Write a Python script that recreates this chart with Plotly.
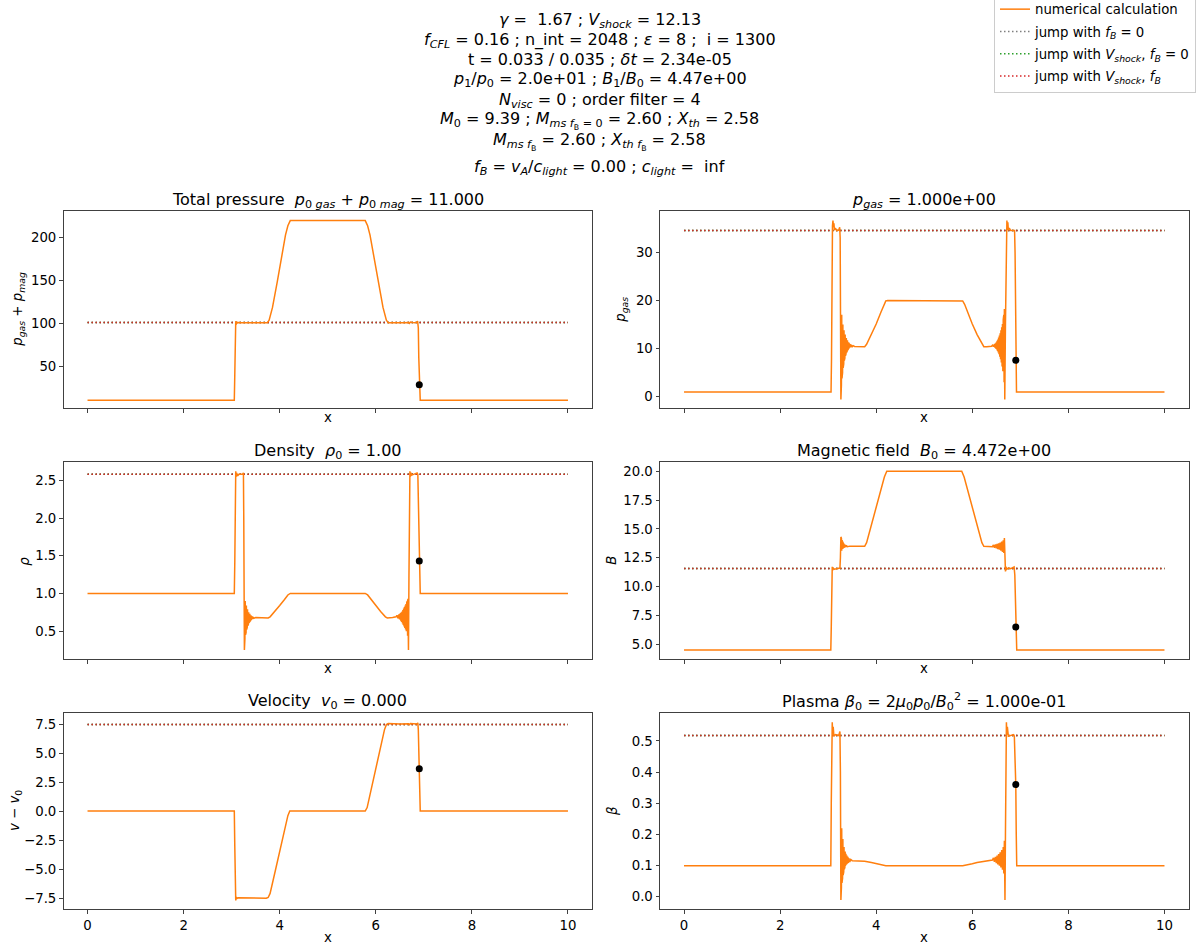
import plotly.graph_objects as go

# ---------------- data ----------------
TP = [(0.0, 11), (3.055, 11), (3.065, 40), (3.075, 85), (3.085, 103), (3.095, 99), (3.105, 102.5),
      (3.115, 100.5), (3.13, 101.5), (3.2, 101), (3.5, 101), (3.74, 101), (3.78, 104), (3.85, 119),
      (3.95, 149), (4.05, 181), (4.12, 203), (4.17, 214), (4.22, 220), (5.78, 220), (5.83, 214),
      (5.88, 203), (5.95, 181), (6.05, 149), (6.15, 119), (6.22, 104), (6.26, 101), (6.6, 101),
      (6.68, 101.5), (6.70, 100.5), (6.72, 102), (6.8, 101), (6.85, 101.5), (6.87, 103), (6.88, 99),
      (6.885, 95), (6.895, 60), (6.905, 29), (6.915, 14), (6.925, 11), (10.0, 11)]

PGAS = [(0.0, 1.0), (3.06, 1.0), (3.07, 8), (3.08, 28), (3.09, 35.5), (3.10, 36.6), (3.11, 35.2),
        (3.12, 36.0), (3.13, 34.6), (3.15, 35.0), (3.18, 34.5), (3.22, 34.6), (3.24, 35.2), (3.25, 33),
        (3.258, 15), (3.265, -0.55),
        (3.27, 18.4), (3.276, 2.5), (3.282, 17.0), (3.288, 3.8), (3.294, 15.8), (3.30, 5.0),
        (3.306, 15.0), (3.312, 6.0), (3.318, 14.3), (3.324, 6.8), (3.33, 13.8), (3.336, 7.5),
        (3.342, 13.3), (3.348, 8.0), (3.354, 12.9), (3.36, 8.5), (3.366, 12.5), (3.372, 8.9),
        (3.378, 12.2), (3.384, 9.2), (3.39, 12.0), (3.396, 9.5), (3.402, 11.7), (3.408, 9.7),
        (3.414, 11.5), (3.42, 9.9), (3.426, 11.3), (3.432, 10.0), (3.44, 11.1), (3.45, 10.2),
        (3.46, 10.9), (3.47, 10.3), (3.48, 10.8), (3.50, 10.4), (3.52, 10.6), (3.55, 10.45),
        (3.6, 10.45), (3.7, 10.4), (3.76, 10.4), (3.8, 10.9), (3.9, 12.9), (4.0, 15.1), (4.1, 17.6),
        (4.16, 19.2), (4.2, 19.9), (4.24, 20.0), (5.76, 20.0), (5.8, 19.9), (5.84, 19.2), (5.9, 17.6),
        (6.0, 15.1), (6.1, 12.9), (6.2, 10.9), (6.24, 10.4), (6.3, 10.4), (6.35, 10.45), (6.4, 10.5),
        (6.42, 10.7), (6.44, 10.4), (6.46, 10.9), (6.47, 10.2), (6.48, 11.1), (6.49, 10.0),
        (6.50, 11.3), (6.508, 9.8), (6.516, 11.6), (6.524, 9.5), (6.532, 11.9), (6.54, 9.2),
        (6.548, 12.3), (6.556, 8.8), (6.564, 12.7), (6.572, 8.3), (6.58, 13.2), (6.588, 7.8),
        (6.596, 13.8), (6.604, 7.1), (6.612, 14.4), (6.62, 6.3), (6.628, 15.1), (6.636, 5.3),
        (6.644, 16.0), (6.65, 4.2), (6.656, 17.0), (6.662, 3.0), (6.668, 18.2), (6.676, -0.55),
        (6.69, 15), (6.70, 30), (6.71, 35.5), (6.72, 36.6), (6.73, 35), (6.74, 36.2), (6.75, 34.6),
        (6.77, 35), (6.8, 34.5), (6.86, 34.6), (6.88, 34.5), (6.89, 30), (6.9, 14), (6.91, 3),
        (6.92, 1.0), (10.0, 1.0)]

RHO = [(0.0, 1.0), (3.055, 1.0), (3.065, 1.4), (3.075, 2.3), (3.085, 2.62), (3.095, 2.55), (3.105, 2.6),
       (3.12, 2.56), (3.15, 2.58), (3.22, 2.58), (3.245, 2.6), (3.252, 2.0), (3.26, 1.0), (3.265, 0.25),
       (3.27, 0.93), (3.276, 0.40), (3.282, 0.90), (3.288, 0.45), (3.294, 0.87), (3.30, 0.48),
       (3.306, 0.84), (3.312, 0.52), (3.318, 0.81), (3.324, 0.55), (3.33, 0.79), (3.336, 0.57),
       (3.342, 0.77), (3.348, 0.59), (3.354, 0.75), (3.36, 0.61), (3.366, 0.74), (3.372, 0.62),
       (3.378, 0.73), (3.384, 0.63), (3.39, 0.72), (3.396, 0.64), (3.402, 0.71), (3.41, 0.65),
       (3.42, 0.70), (3.43, 0.66), (3.44, 0.69), (3.46, 0.67), (3.5, 0.68), (3.6, 0.675),
       (3.76, 0.675), (3.8, 0.69), (3.9, 0.76), (4.0, 0.84), (4.1, 0.92), (4.17, 0.98), (4.22, 1.0),
       (5.78, 1.0), (5.83, 0.98), (5.9, 0.92), (6.0, 0.84), (6.1, 0.76), (6.2, 0.69), (6.24, 0.675),
       (6.35, 0.68), (6.42, 0.69), (6.44, 0.71), (6.46, 0.67), (6.48, 0.72), (6.49, 0.66),
       (6.50, 0.73), (6.508, 0.65), (6.516, 0.74), (6.524, 0.63), (6.532, 0.75), (6.54, 0.62),
       (6.548, 0.76), (6.556, 0.60), (6.564, 0.78), (6.572, 0.58), (6.58, 0.80), (6.588, 0.56),
       (6.596, 0.82), (6.604, 0.54), (6.612, 0.84), (6.62, 0.52), (6.628, 0.86), (6.636, 0.50),
       (6.644, 0.88), (6.65, 0.47), (6.656, 0.90), (6.662, 0.44), (6.668, 0.93), (6.674, 0.42),
       (6.68, 0.25), (6.69, 1.2), (6.70, 2.2), (6.71, 2.62), (6.72, 2.55), (6.73, 2.6), (6.75, 2.57),
       (6.8, 2.58), (6.86, 2.6), (6.875, 2.58), (6.885, 2.3), (6.895, 1.9), (6.905, 1.43),
       (6.915, 1.1), (6.925, 1.0), (10.0, 1.0)]

BFIELD = [(0.0, 4.472), (3.055, 4.472), (3.065, 6.5), (3.075, 10.5), (3.085, 11.7), (3.095, 11.4),
          (3.105, 11.6), (3.13, 11.5), (3.2, 11.55), (3.245, 11.6), (3.255, 12.5), (3.265, 14.3),
          (3.27, 13.0), (3.276, 14.2), (3.282, 13.1), (3.288, 14.0), (3.294, 13.2), (3.30, 13.9),
          (3.306, 13.25), (3.312, 13.8), (3.318, 13.3), (3.324, 13.7), (3.33, 13.35), (3.34, 13.65),
          (3.35, 13.4), (3.36, 13.6), (3.37, 13.42), (3.38, 13.55), (3.4, 13.45), (3.45, 13.5),
          (3.6, 13.48), (3.76, 13.48), (3.8, 13.8), (3.9, 15.3), (4.0, 16.8), (4.1, 18.4), (4.17, 19.5),
          (4.22, 20.0), (5.78, 20.0), (5.83, 19.5), (5.9, 18.4), (6.0, 16.8), (6.1, 15.3), (6.2, 13.8),
          (6.24, 13.48), (6.42, 13.45), (6.44, 13.6), (6.46, 13.35), (6.48, 13.65), (6.50, 13.3),
          (6.516, 13.7), (6.532, 13.25), (6.548, 13.75), (6.564, 13.2), (6.58, 13.8), (6.596, 13.1),
          (6.612, 13.9), (6.628, 13.0), (6.644, 14.0), (6.656, 12.9), (6.668, 14.2), (6.68, 12.5),
          (6.69, 11.3), (6.70, 11.7), (6.72, 11.5), (6.75, 11.6), (6.8, 11.55), (6.87, 11.7),
          (6.885, 11.0), (6.895, 9.0), (6.905, 6.5), (6.915, 5.0), (6.925, 4.472), (10.0, 4.472)]

VEL = [(0.0, 0.0), (3.055, 0.0), (3.065, -3.0), (3.075, -7.0), (3.085, -7.7), (3.095, -7.4),
       (3.105, -7.55), (3.13, -7.48), (3.3, -7.5), (3.5, -7.5), (3.72, -7.52), (3.76, -7.45),
       (3.8, -7.1), (3.9, -5.3), (4.0, -3.5), (4.1, -1.6), (4.17, -0.4), (4.21, 0.0), (5.78, 0.0),
       (5.82, 0.3), (5.9, 1.8), (6.0, 3.7), (6.1, 5.6), (6.18, 7.0), (6.22, 7.45), (6.26, 7.55),
       (6.5, 7.5), (6.68, 7.52), (6.7, 7.45), (6.72, 7.55), (6.86, 7.5), (6.875, 7.6), (6.885, 7.0),
       (6.895, 5.5), (6.905, 3.64), (6.915, 1.5), (6.925, 0.0), (10.0, 0.0)]

BETA = [(0.0, 0.1), (3.055, 0.1), (3.065, 0.3), (3.075, 0.5), (3.085, 0.56), (3.095, 0.52),
        (3.105, 0.545), (3.12, 0.515), (3.15, 0.52), (3.22, 0.517), (3.245, 0.53), (3.255, 0.4),
        (3.265, -0.01), (3.27, 0.25), (3.276, 0.03), (3.282, 0.22), (3.288, 0.045), (3.294, 0.2),
        (3.30, 0.06), (3.306, 0.185), (3.312, 0.07), (3.318, 0.17), (3.324, 0.08), (3.33, 0.16),
        (3.336, 0.088), (3.342, 0.152), (3.348, 0.094), (3.354, 0.145), (3.36, 0.099), (3.37, 0.138),
        (3.38, 0.103), (3.39, 0.132), (3.40, 0.106), (3.41, 0.128), (3.42, 0.109), (3.43, 0.124),
        (3.45, 0.112), (3.47, 0.12), (3.5, 0.116), (3.6, 0.116), (3.76, 0.114), (3.9, 0.110),
        (4.0, 0.106), (4.1, 0.102), (4.2, 0.1), (5.8, 0.1), (5.9, 0.102), (6.0, 0.106), (6.1, 0.110),
        (6.24, 0.114), (6.35, 0.116), (6.42, 0.118), (6.44, 0.125), (6.46, 0.112), (6.48, 0.128),
        (6.50, 0.108), (6.516, 0.132), (6.532, 0.104), (6.548, 0.137), (6.564, 0.1), (6.58, 0.143),
        (6.596, 0.094), (6.612, 0.15), (6.628, 0.087), (6.644, 0.16), (6.656, 0.075), (6.668, 0.18),
        (6.674, 0.06), (6.68, -0.01), (6.69, 0.2), (6.70, 0.45), (6.71, 0.56), (6.72, 0.52),
        (6.73, 0.545), (6.75, 0.515), (6.8, 0.517), (6.86, 0.52), (6.875, 0.515), (6.885, 0.47),
        (6.895, 0.42), (6.905, 0.36), (6.915, 0.2), (6.925, 0.1), (10.0, 0.1)]

JUMP_X = [0.0, 10.0]
JUMP_LEVELS = [101.5, 34.5, 2.58, 11.55, 7.47, 0.517]   # TP, p_gas, rho, B, v, beta
DOT_X = [6.905, 6.905, 6.905, 6.905, 6.905, 6.905]
DOT_Y = [28.9, 7.55, 1.43, 6.47, 3.64, 0.36]

X_TICKS = [0, 2, 4, 6, 8, 10]
Y_RANGES = [[1.6, 230.8], [-2.4, 38.5], [0.13, 2.74], [3.70, 20.78], [-8.47, 8.47], [-0.04, 0.59]]
Y_TICKS = [[50, 100, 150, 200], [0, 10, 20, 30], [0.5, 1.0, 1.5, 2.0, 2.5],
           [5.0, 7.5, 10.0, 12.5, 15.0, 17.5, 20.0], [-7.5, -5.0, -2.5, 0.0, 2.5, 5.0, 7.5],
           [0.0, 0.1, 0.2, 0.3, 0.4, 0.5]]
Y_FORMATS = ["d", "d", ".1f", ".1f", ".1f", ".1f"]

TITLES = ["Total pressure  <i>p</i><sub>0 <i>gas</i></sub> + <i>p</i><sub>0 <i>mag</i></sub> = 11.000",
          "<i>p<sub>gas</sub></i> = 1.000e+00",
          "Density  <i>ρ</i><sub>0</sub> = 1.00",
          "Magnetic field  <i>B</i><sub>0</sub> = 4.472e+00",
          "Velocity  <i>v</i><sub>0</sub> = 0.000",
          "Plasma <i>β</i><sub>0</sub> = 2<i>μ</i><sub>0</sub><i>p</i><sub>0</sub>/<i>B</i><sub>0</sub><sup>2</sup> = 1.000e-01"]
YLABELS = ["<i>p<sub>gas</sub></i> + <i>p<sub>mag</sub></i>", "<i>p<sub>gas</sub></i>", "<i>ρ</i>",
           "<i>B</i>", "<i>v</i> − <i>v</i><sub>0</sub>", "<i>β</i>"]
SUPTITLE = ["<i>γ</i> =  1.67 ; <i>V<sub>shock</sub></i> = 12.13",
            "<i>f<sub>CFL</sub></i> = 0.16 ; n_int = 2048 ; <i>ε</i> = 8 ;  i = 1300",
            "t = 0.033 / 0.035 ; <i>δt</i> = 2.34e-05",
            "<i>p</i><sub>1</sub>/<i>p</i><sub>0</sub> = 2.0e+01 ; <i>B</i><sub>1</sub>/<i>B</i><sub>0</sub> = 4.47e+00",
            "<i>N<sub>visc</sub></i> = 0 ; order filter = 4",
            "<i>M</i><sub>0</sub> = 9.39 ; <i>M<sub>ms f</sub></i><sub><sub>B</sub></sub><sub> = 0</sub> = 2.60 ; <i>X<sub>th</sub></i> = 2.58",
            "<i>M<sub>ms f</sub></i><sub><sub>B</sub></sub> = 2.60 ; <i>X<sub>th f</sub></i><sub><sub>B</sub></sub> = 2.58",
            "<i>f<sub>B</sub></i> = <i>v<sub>A</sub></i>/<i>c<sub>light</sub></i> = 0.00 ; <i>c<sub>light</sub></i> =  inf"]
LEGEND_NAMES = ["numerical calculation", "jump with <i>f<sub>B</sub></i> = 0",
                "jump with <i>V<sub>shock</sub></i>, <i>f<sub>B</sub></i> = 0",
                "jump with <i>V<sub>shock</sub></i>, <i>f<sub>B</sub></i>"]

# ---------------- layout geometry (pixels) ----------------
W, H = 1199, 947
COLS = [(63.5, 592.0), (660.0, 1188.5)]
ROWS = [(211.3, 408.3), (462.3, 659.0), (712.8, 909.3)]
YLABEL_PX = [19, 622, 25, 612, 15, 612]
FONT = "DejaVu Sans"
ORANGE = "#ff7f0e"
JUMP_COLORS = ["#7f7f7f", "#2ca02c", "#d62728"]

series = [TP, PGAS, RHO, BFIELD, VEL, BETA]

fig = go.Figure()
layout = dict(width=W, height=H, margin=dict(l=0, r=0, t=0, b=0, pad=0, autoexpand=False),
              paper_bgcolor="white", plot_bgcolor="white", font=dict(family=FONT, size=13.3, color="black"),
              showlegend=True, annotations=[])

for i, data in enumerate(series):
    row, col = i // 2, i % 2
    n = i + 1
    xa, ya = ("x" if n == 1 else f"x{n}"), ("y" if n == 1 else f"y{n}")
    xs = [p[0] for p in data]
    ys = [p[1] for p in data]
    # jump lines
    for k, c in enumerate(JUMP_COLORS):
        fig.add_trace(go.Scatter(x=JUMP_X, y=[JUMP_LEVELS[i]] * 2, mode="lines", xaxis=xa, yaxis=ya,
                                 line=dict(color=c, width=1.5, dash="1.5px,2.5px"),
                                 name=LEGEND_NAMES[k + 1], showlegend=(i == 0), legendrank=k + 2,
                                 legendgroup=f"g{k+1}", hoverinfo="skip"))
    fig.add_trace(go.Scatter(x=xs, y=ys, mode="lines", xaxis=xa, yaxis=ya,
                             line=dict(color=ORANGE, width=1.5), name=LEGEND_NAMES[0],
                             showlegend=(i == 0), legendrank=1, legendgroup="g0"))
    fig.add_trace(go.Scatter(x=[DOT_X[i]], y=[DOT_Y[i]], mode="markers", xaxis=xa, yaxis=ya,
                             marker=dict(color="black", size=7), showlegend=False))

    x0, x1 = COLS[col]
    y0, y1 = ROWS[row]
    axis_common = dict(showline=True, mirror=True, linecolor="#404040", linewidth=1, showgrid=False,
                       zeroline=False, ticks="outside", ticklen=3.5, tickwidth=1, tickcolor="#404040",
                       tickfont=dict(family=FONT, size=13.3, color="black"))
    layout["xaxis" if n == 1 else f"xaxis{n}"] = dict(
        axis_common, domain=[x0 / W, x1 / W], anchor=ya, range=[-0.5, 10.5], tickvals=X_TICKS,
        showticklabels=(row == 2))
    layout["yaxis" if n == 1 else f"yaxis{n}"] = dict(
        axis_common, domain=[1 - y1 / H, 1 - y0 / H], anchor=xa, range=Y_RANGES[i],
        tickvals=Y_TICKS[i], tickformat=Y_FORMATS[i])
    cx = (x0 + x1) / 2
    layout["annotations"].append(dict(text=TITLES[i], x=cx / W, y=1 - (y0 - 11) / H, xref="paper",
                                      yref="paper", xanchor="center", yanchor="middle", showarrow=False,
                                      font=dict(family=FONT, size=16, color="black")))
    xlab_y = y1 + (28 if row == 2 else 9)
    layout["annotations"].append(dict(text="x", x=cx / W, y=1 - xlab_y / H, xref="paper", yref="paper",
                                      xanchor="center", yanchor="middle", showarrow=False,
                                      font=dict(family=FONT, size=13.3, color="black")))
    layout["annotations"].append(dict(text=YLABELS[i], x=YLABEL_PX[i] / W, y=1 - (y0 + y1) / 2 / H,
                                      xref="paper", yref="paper", xanchor="center", yanchor="middle",
                                      textangle=-90, showarrow=False,
                                      font=dict(family=FONT, size=13.3, color="black")))

SUP_Y = [20, 40, 60, 80, 100, 120, 142, 168]
for txt, yy in zip(SUPTITLE, SUP_Y):
    layout["annotations"].append(dict(text=txt, x=0.5, y=1 - yy / H, xref="paper", yref="paper",
                                      xanchor="center", yanchor="middle", showarrow=False,
                                      font=dict(family=FONT, size=16, color="black")))

layout["legend"] = dict(x=1196 / W, y=1 + 7 / H, xanchor="right", yanchor="top", bgcolor="white",
                        bordercolor="#cccccc", borderwidth=1, font=dict(family=FONT, size=13.3),
                        itemwidth=30, tracegroupgap=2, traceorder="grouped")
fig.update_layout(**layout)
fig.write_html("out.html")
